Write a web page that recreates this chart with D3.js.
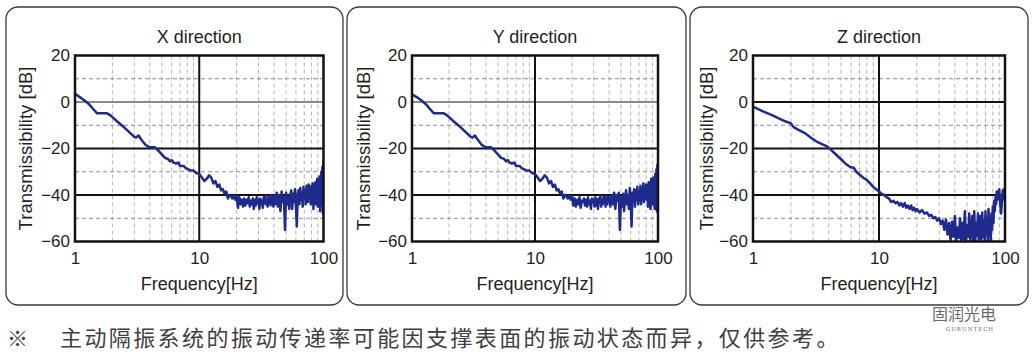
<!DOCTYPE html>
<html><head><meta charset="utf-8">
<script src="https://cdn.jsdelivr.net/npm/d3@7"></script>
<style>body{margin:0;background:#fff}svg{display:block}</style>
</head><body><svg id="c" width="1035" height="357"></svg>
<script>
const TITLES = ["X direction", "Y direction", "Z direction"];
const Y_TICKS = [20, 0, -20, -40, -60];
const Y_MAJOR = [-40, -20, 0];
const Y_MINOR = [10, -10, -30, -50];
const X_TICKS = [1, 10, 100];
const X_MINOR = [2,3,4,5,6,7,8,9,20,30,40,50,60,70,80,90];
const Y_LABEL = "Transmissibility [dB]";
const X_LABEL = "Frequency[Hz]";
const NOTE_MARK = "※";
const NOTE = "主动隔振系统的振动传递率可能因支撑表面的振动状态而异，仅供参考。";

const FREQ_XY = [1,1.1,1.2,1.3,1.4,1.5,1.6,1.8,1.9,2,2.2,2.5,2.8,3,3.1,3.25,3.4,3.7,4,4.4,
4.6,5,5.3,5.6,5.8,6,6.2,6.5,6.8,7,7.5,7.8,8.2,8.6,9,9.4,10,10.5,11,11.5,
12,12.5,13,13.5,14,14.5,15,15.5,16,16.5,17,17.5,18,18.5,19,19.5,20,
20.5,21,21.5,22,22.5,23,23.5,24,24.5,25,25.5,26,26.5,27,27.5,28,28.5,29,29.5,30,
30.5,31,31.5,32,32.5,33,33.5,34,34.5,35,35.5,36,36.5,37,37.5,38,38.5,39,39.5,40,
41,42,43,44,45,46,47,48,49,50,51,52,53,54,55,56,57,58,59,60,
61,62,63,64,65,66,67,68,69,70,71,72,73,74,75,76,77,78,79,80,
81,82,83,84,85,86,87,88,89,90,91,92,93,94,95,96,97,98,99,100];

const DB_X = [3.5,2,0.5,-1,-3,-4.8,-4.8,-4.8,-5.5,-6.5,
-8.5,-11,-13.5,-15,-15.3,-14.4,-16,-18.5,-19.5,-19.5,
-20.5,-22.5,-24,-24.5,-25.5,-25,-26,-26.5,-26,-27.5,
-27.5,-28.5,-29,-29.5,-29.5,-30.5,-31,-32.5,-34,-33,
-31.5,-32.5,-35,-34,-36.5,-35.5,-38,-37.5,-39.5,-38.5,
-41.5,-40,-40.5,-41.5,-40,-42,-40.5,
-45.5,-41,-44,-42,-45,-41.5,-44.5,-42,-43.5,-41,
-45,-42.5,-44,-41.5,-46,-42,-44.5,-41,-43.5,-42,
-46,-41.5,-44,-42.5,-45.5,-41,-43.5,-40.5,-44,-42,
-45,-40.5,-43,-41.5,-44.5,-40,-43.5,-41,-45,-40.5,
-44,-39,-45,-40,-47,-38.5,-43,-41,-55,-39,
-44,-41,-46,-40,-38,-46,-39.5,-43,-37.5,-45,
-53.5,-40,-38,-44,-37,-42,-39,-45,-36.5,-41,
-38,-44,-36,-40,-43,-35.5,-41,-38,-44,-36,
-40,-35,-46,-37,-41,-34.5,-44,-37,-33,-45,
-36,-41,-32,-47,-35,-30,-44,-28,-48,-25];

const DB_Y = [3.3,2,0.5,-1,-3,-4.8,-4.8,-4.8,-5.5,-6.5,
-8.5,-11,-13.5,-15,-15.3,-14.4,-16,-18.5,-19.5,-19.5,
-20.5,-22.5,-24,-24.5,-25.5,-25,-26,-26.5,-26,-27.5,
-27.5,-28.5,-29,-29.5,-29.5,-30.5,-31,-32.5,-34,-33,
-31.5,-32.5,-35,-34,-36.5,-35.5,-38,-37.5,-39.5,-38.5,
-41.5,-40,-40.5,-41.5,-40,-42,-40.5,
-44.5,-41.5,-45,-42,-44,-41,-45.5,-42.5,-43,-41.5,
-44.5,-42,-45,-41,-44,-42.5,-46,-41.5,-43,-42,
-45,-41,-44.5,-42,-46,-41.5,-43,-40.5,-45,-42.5,
-44,-41,-43.5,-40.5,-45,-41.5,-44,-40.5,-43,-41,
-45,-40,-44,-39,-46,-40,-42.5,-39,-55,-41,
-45,-39.5,-47,-41,-38,-44,-40,-46,-37,-43,
-53.5,-39,-42,-37.5,-45,-38,-42,-36.5,-44,-39,
-42.5,-36,-44,-38,-41,-35,-43,-37,-40,-35.5,
-42,-36,-45,-34.5,-40,-36,-46,-33,-41,-35,
-44,-32.5,-38,-46,-31,-43,-29,-47,-27,-48];

const FREQ_Z = [1,1.2,1.4,1.6,1.8,2,2.1,2.3,2.6,2.9,3.2,3.6,3.9,4.2,4.6,4.9,5.2,5.5,5.9,6.3,
6.6,7,7.6,8,8.5,9,9.5,10,10.5,11,11.5,12,12.5,13,13.5,14,14.5,15,15.5,16,
16.5,17,17.5,18,18.5,19,19.5,20,
21,22,23,24,25,26,27,28,29,30,31,32,33,34,35,36,37,38,39,40,
41,42,43,44,45,46,47,48,49,50,51,52,53,54,55,56,57,58,59,60,
61,62,63,64,65,66,67,68,69,70,71,72,73,74,75,76,77,78,79,80,
81,82,83,84,85,86,87,88,89,90,91,92,93,94,95,96,97,98,99,100];

const DB_Z = [-2,-4,-5.5,-7,-8.3,-9.2,-10.8,-12,-13.5,-15.5,
-17,-18.3,-19.2,-20.8,-22.8,-24.2,-25.5,-26.8,-28,-28.3,
-30,-31.2,-32.8,-33.5,-35,-36.5,-37.5,-38.5,-39.5,-40,
-41,-41.5,-43,-42.5,-43.5,-43,-44.5,-43.5,-45,-43.5,
-45.5,-44.5,-46,-44.5,-46.5,-45.5,-47,-46,
-47.5,-46.5,-48,-47.5,-49,-48.5,-50,-49.5,-51,-50,
-52.5,-51,-55,-50.5,-57,-52,-59.5,-51.5,-58,-49,
-60,-54,-58.5,-50,-60,-52,-59,-47,-60,-53,
-58,-48,-60,-55,-49,-59.5,-47,-60,-52,-57.5,
-48,-60,-54,-49,-59,-47.5,-58,-51,-60,-47,
-57,-53,-59.5,-46,-58,-50,-60,-48,-55,-45,
-52,-42.5,-47,-41,-44,-38.5,-42,-39,-41,-37.5,
-42,-45,-48,-45,-41,-38,-40,-37.5,-42,-38];

const PANELS = [
  {title: TITLES[0], freq: FREQ_XY, db: DB_X, bx0: 6, bx1: 343, px0: 75, px1: 323.5, ylx: 31.5, zero: "#8a8a8a"},
  {title: TITLES[1], freq: FREQ_XY, db: DB_Y, bx0: 347, bx1: 686, px0: 412, px1: 658, ylx: 369.5, zero: "#8a8a8a"},
  {title: TITLES[2], freq: FREQ_Z, db: DB_Z, bx0: 690, bx1: 1028, px0: 753, px1: 1005, ylx: 713, zero: "#111"}
];

const svg = d3.select("#c");
svg.append("rect").attr("width",1035).attr("height",357).attr("fill","#fff");
const FONT = "Liberation Sans, Arial, Helvetica, sans-serif";
const TXT = "#231f20";
const LINE = "#1f2b8c";
const TOP = 55.5, BOT = 241.5;

PANELS.forEach((p, i) => {
  const g = svg.append("g");
  g.append("rect").attr("x", p.bx0).attr("y", 7).attr("width", p.bx1 - p.bx0).attr("height", 298)
    .attr("rx", 12).attr("fill", "none").attr("stroke", "#3a3a3a").attr("stroke-width", 1.3);

  const x = d3.scaleLog().domain([1, 100]).range([p.px0, p.px1]);
  const y = d3.scaleLinear().domain([-60, 20]).range([BOT, TOP]);

  g.selectAll(".vmin").data(X_MINOR).join("line")
    .attr("x1", d => x(d)).attr("x2", d => x(d)).attr("y1", TOP).attr("y2", BOT)
    .attr("stroke", "#b5b5b5").attr("stroke-width", 1).attr("stroke-dasharray", "4,3");
  g.selectAll(".hmin").data(Y_MINOR).join("line")
    .attr("x1", p.px0).attr("x2", p.px1).attr("y1", d => y(d)).attr("y2", d => y(d))
    .attr("stroke", "#8c8c8c").attr("stroke-width", 1).attr("stroke-dasharray", "4,3");
  g.selectAll(".hmaj").data(Y_MAJOR).join("line")
    .attr("x1", p.px0).attr("x2", p.px1).attr("y1", d => y(d)).attr("y2", d => y(d))
    .attr("stroke", d => d === 0 ? p.zero : "#111").attr("stroke-width", 2);
  g.append("line").attr("x1", x(10)).attr("x2", x(10)).attr("y1", TOP).attr("y2", BOT)
    .attr("stroke", "#111").attr("stroke-width", 2);

  const cid = "clip" + i;
  svg.append("clipPath").attr("id", cid).append("rect")
    .attr("x", p.px0).attr("y", TOP).attr("width", p.px1 - p.px0).attr("height", BOT - TOP);
  const pts = p.freq.map((f, k) => [f, p.db[k]]);
  g.append("path").datum(pts).attr("clip-path", `url(#${cid})`)
    .attr("d", d3.line().x(d => x(d[0])).y(d => y(d[1])))
    .attr("fill", "none").attr("stroke", LINE).attr("stroke-width", 2.5).attr("stroke-linejoin", "round");

  g.append("rect").attr("x", p.px0).attr("y", TOP).attr("width", p.px1 - p.px0).attr("height", BOT - TOP)
    .attr("fill", "none").attr("stroke", "#111").attr("stroke-width", 2.5);

  const ya = g.append("g").attr("transform", `translate(${p.px0 - 4},0)`)
    .call(d3.axisLeft(y).tickValues(Y_TICKS).tickSize(0).tickPadding(1).tickFormat(d3.format("d")));
  ya.select(".domain").remove();
  ya.selectAll("text").attr("font-family", FONT).attr("font-size", 17).attr("fill", TXT);
  const xa = g.append("g").attr("transform", `translate(0,${BOT + 10})`)
    .call(d3.axisBottom(x).tickValues(X_TICKS).tickSize(0).tickPadding(0).tickFormat(d3.format("d")));
  xa.select(".domain").remove();
  xa.selectAll("text").attr("font-family", FONT).attr("font-size", 17).attr("fill", TXT);

  g.append("text").attr("x", (p.px0 + p.px1) / 2).attr("y", 43).attr("text-anchor", "middle")
    .attr("font-family", FONT).attr("font-size", 18).attr("fill", TXT).text(p.title);
  g.append("text").attr("x", (p.px0 + p.px1) / 2).attr("y", 290).attr("text-anchor", "middle")
    .attr("font-family", FONT).attr("font-size", 18).attr("fill", TXT).text(X_LABEL);
  g.append("text").attr("transform", `translate(${p.ylx},${(TOP + BOT) / 2}) rotate(-90)`)
    .attr("text-anchor", "middle").attr("font-family", FONT).attr("font-size", 18.5).attr("fill", TXT).text(Y_LABEL);
});

svg.append("text").attr("x", 7).attr("y", 346).attr("font-family", "Noto Sans CJK SC")
  .attr("font-size", 21).attr("fill", "#404040").text(NOTE_MARK);
svg.append("text").attr("x", 60).attr("y", 346).attr("font-family", "Noto Sans CJK SC")
  .attr("font-size", 22).attr("letter-spacing", 2.4).attr("fill", "#404040").text(NOTE);

svg.append("text").attr("x", 964).attr("y", 320).attr("text-anchor", "middle").attr("font-family", "Noto Sans CJK SC")
  .attr("font-size", 16).attr("fill", "#6a6a6a").text("固润光电");
svg.append("text").attr("x", 970).attr("y", 331).attr("text-anchor", "middle").attr("font-family", "DejaVu Serif")
  .attr("font-size", 5.5).attr("letter-spacing", 1).attr("fill", "#6a6a6a").text("GURUNTECH");
</script></body></html>
